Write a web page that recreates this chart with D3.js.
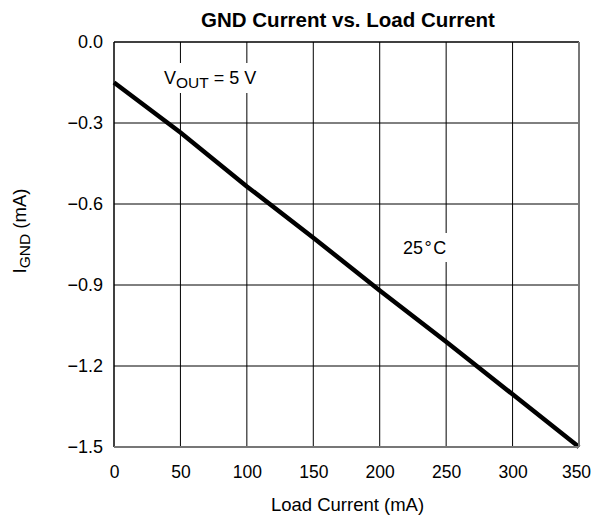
<!DOCTYPE html>
<html><head><meta charset="utf-8">
<script src="https://cdn.jsdelivr.net/npm/d3@7"></script>
<style>body{margin:0;background:#fff}svg{display:block}text{font-family:"Liberation Sans",Arial,sans-serif;fill:#000}</style>
</head><body>
<svg id="c" width="593" height="516"></svg>
<script>
const loadCurrent = [0, 50, 100, 150, 200, 250, 300, 350];
const gndCurrent = [-0.15, -0.335, -0.535, -0.725, -0.92, -1.11, -1.305, -1.5];
const xTicks = [0, 50, 100, 150, 200, 250, 300, 350];
const yTicks = [0.0, -0.3, -0.6, -0.9, -1.2, -1.5];

const FONT = '"Liberation Sans",Arial,sans-serif';
const svg = d3.select("#c");
const L = 114, R = 579, T = 42, B = 447;
const x = d3.scaleLinear().domain([0, 350]).range([L, R]);
const y = d3.scaleLinear().domain([-1.5, 0]).range([B, T]);

// grid
const g = svg.append("g");
g.selectAll(".vx").data(xTicks.slice(1, -1)).join("line")
  .attr("x1", d => x(d)).attr("x2", d => x(d)).attr("y1", T).attr("y2", B)
  .attr("stroke", "#000").attr("stroke-width", 1);
g.selectAll(".hy").data(yTicks.slice(1, -1)).join("line")
  .attr("x1", L).attr("x2", R).attr("y1", d => y(d)).attr("y2", d => y(d))
  .attr("stroke", "#000").attr("stroke-width", 1);

// annotations with white background
function label(xp, yp, padT, padB, build) {
  const t = svg.append("text").attr("x", xp).attr("y", yp).attr("font-size", 18);
  build(t);
  const bb = t.node().getBBox();
  svg.insert("rect", "text").attr("x", bb.x - 2).attr("y", yp - padT)
    .attr("width", bb.width + 4).attr("height", padT + padB).attr("fill", "#fff");
  return t;
}
label(164, 84, 21, 9, t => {
  t.append("tspan").text("V");
  t.append("tspan").attr("font-size", 15.5).attr("dy", 4).text("OUT");
  t.append("tspan").attr("dy", -4).text(" = 5 V");
});
label(403, 254, 21, 8, t => { t.text("25\u200A\u00B0\u200AC"); });

// line
svg.append("path").datum(loadCurrent.map((d, i) => [d, gndCurrent[i]]))
  .attr("d", d3.line().x(d => x(d[0])).y(d => y(d[1])))
  .attr("fill", "none").attr("stroke", "#000").attr("stroke-width", 4.5);

// frame
svg.append("line").attr("x1", L).attr("x2", R).attr("y1", T).attr("y2", T).attr("stroke", "#000").attr("stroke-width", 1.5);
svg.append("line").attr("x1", L).attr("x2", L).attr("y1", T).attr("y2", B).attr("stroke", "#000").attr("stroke-width", 1.5);
svg.append("line").attr("x1", L).attr("x2", R).attr("y1", B).attr("y2", B).attr("stroke", "#777").attr("stroke-width", 2);
svg.append("line").attr("x1", R).attr("x2", R).attr("y1", T).attr("y2", B).attr("stroke", "#777").attr("stroke-width", 2);

// axes labels
const fmtY = d => (d < 0 ? "\u2212" : "") + Math.abs(d).toFixed(1);
svg.append("g").attr("transform", `translate(0,${B})`)
  .call(d3.axisBottom(x).tickValues(xTicks).tickSize(0).tickPadding(19).tickFormat(d3.format("d")))
  .call(a => a.select(".domain").remove())
  .selectAll("text").attr("font-size", 17.5).attr("font-family", FONT).attr("fill", "#000")
  .attr("dx", (d, i, n) => i === n.length - 1 ? -3 : 0);
svg.append("g").attr("transform", `translate(${L},0)`)
  .call(d3.axisLeft(y).tickValues(yTicks).tickSize(0).tickPadding(11).tickFormat(fmtY))
  .call(a => a.select(".domain").remove())
  .selectAll("text").attr("font-size", 18).attr("font-family", FONT).attr("fill", "#000");

// titles
svg.append("text").attr("x", 348).attr("y", 27).attr("text-anchor", "middle")
  .attr("font-size", 20.5).attr("font-weight", "bold").text("GND Current vs. Load Current");
svg.append("text").attr("x", 347.5).attr("y", 511).attr("text-anchor", "middle")
  .attr("font-size", 18.5).text("Load Current (mA)");
const yt = svg.append("text").attr("transform", `translate(26,231) rotate(-90)`)
  .attr("text-anchor", "middle").attr("font-size", 18.5);
yt.append("tspan").text("I");
yt.append("tspan").attr("font-size", 15.5).attr("dy", 4).text("GND");
yt.append("tspan").attr("dy", -4).text(" (mA)");
</script>
</body></html>
